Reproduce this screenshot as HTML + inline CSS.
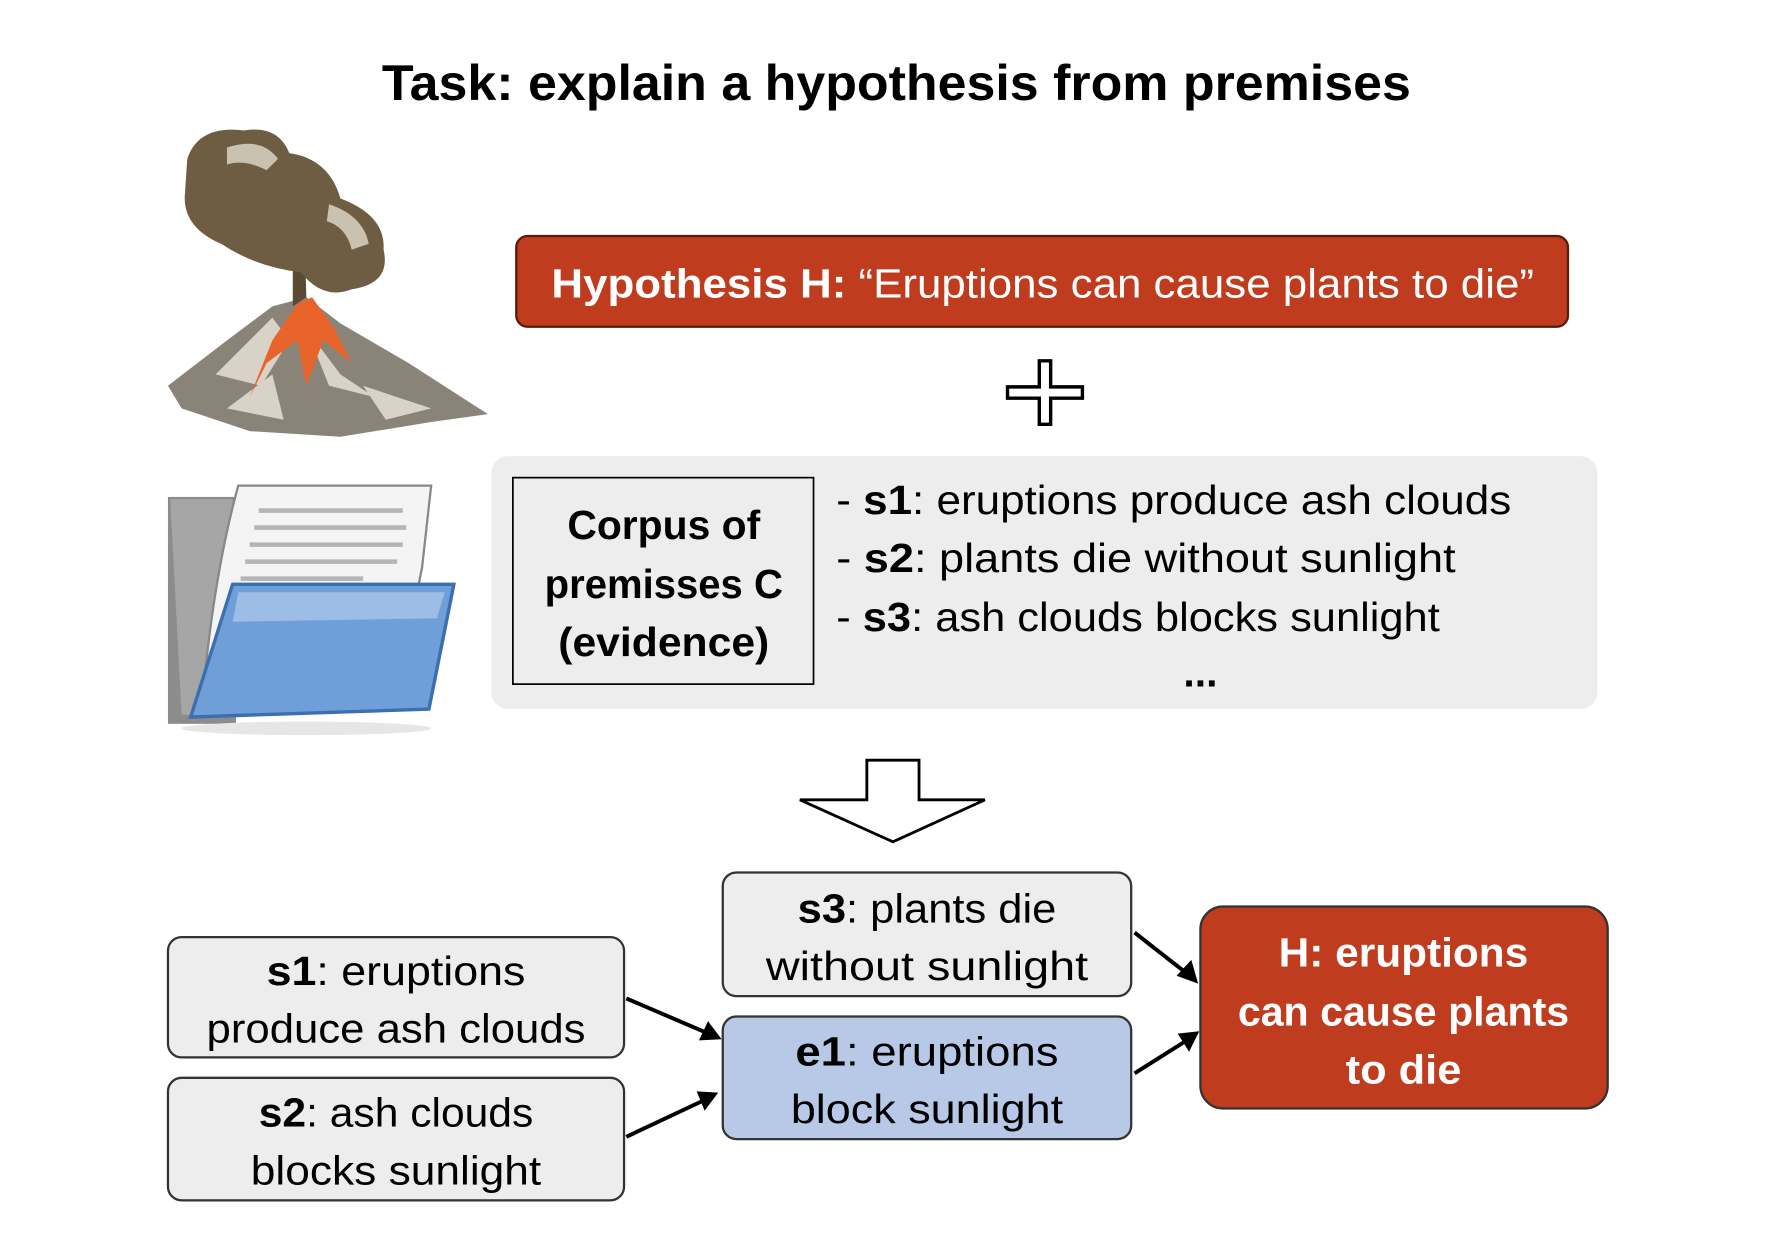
<!DOCTYPE html>
<html><head><meta charset="utf-8"><style>
html,body{margin:0;padding:0;background:#fff}
svg{display:block}
text{font-family:"Liberation Sans",sans-serif}
</style></head><body>
<svg width="1770" height="1248" viewBox="0 0 1560 1100" xmlns="http://www.w3.org/2000/svg">
<defs>
<marker id="ah" markerWidth="8" markerHeight="8" refX="7" refY="4" orient="auto" markerUnits="userSpaceOnUse" viewBox="0 0 8 8">
</marker>
</defs>
<rect width="1560" height="1100" fill="#fff"/>
<text x="790" y="88" font-size="44" font-weight="bold" text-anchor="middle" textLength="907" lengthAdjust="spacingAndGlyphs">Task: explain a hypothesis from premises</text>

<!-- volcano -->
<path d="M148,340 L200,300 L240,270 L270,262 L300,285 L360,320 L430,365 L380,372 L300,385 L220,380 L160,360 Z" fill="#8a8478"/>
<path d="M190,330 L240,280 L255,300 L230,340 Z M270,290 L300,330 L330,350 L290,340 Z M200,360 L240,330 L250,370 Z M320,340 L380,360 L340,370 Z" fill="#d8d3c6"/>
<path d="M262,268 L275,262 L295,290 L310,320 L285,300 L270,340 L262,300 L235,320 L220,350 L240,300 Z" fill="#e8642a"/>
<path d="M258,270 L270,262 L268,200 L258,200 Z" fill="#5a4a35"/>
<path d="M165,140 Q175,110 215,115 Q245,110 255,135 Q290,140 300,175 Q340,190 338,220 Q345,250 310,255 Q285,265 265,240 Q225,235 195,215 Q160,200 163,170 Z" fill="#6e5d42"/>
<path d="M200,130 Q230,120 245,140 L235,150 Q215,140 200,145 Z M290,180 Q320,190 325,215 L310,220 Q305,200 288,195 Z" fill="#c9c2b0"/>

<!-- folder -->
<rect x="148" y="438" width="60" height="200" fill="#8c8c8c"/>
<path d="M150,440 L205,440 L205,630 L160,630 Z" fill="#a6a6a6"/>
<path d="M210,428 L380,428 L372,500 L360,560 L180,600 Q190,500 210,428 Z" fill="#f4f4f4" stroke="#888" stroke-width="2"/>
<g stroke="#b5b5b5" stroke-width="4">
<line x1="228" y1="450" x2="355" y2="450"/><line x1="224" y1="465" x2="358" y2="465"/><line x1="220" y1="480" x2="355" y2="480"/><line x1="216" y1="495" x2="350" y2="495"/><line x1="212" y1="510" x2="320" y2="510"/>
</g>
<path d="M205,515 L400,515 L378,625 L168,632 Z" fill="#6f9fd8" stroke="#3d6fb0" stroke-width="3"/>
<path d="M210,522 L392,522 L385,545 L205,548 Z" fill="#9bbde6"/>
<ellipse cx="270" cy="642" rx="110" ry="6" fill="#e6e6e6"/>

<!-- hypothesis -->
<rect x="455" y="208" width="927" height="80" rx="10" fill="#bf3c1f" stroke="#5b1a0a" stroke-width="2"/>
<text x="486" y="262" font-size="36" fill="#fff" textLength="866" lengthAdjust="spacingAndGlyphs"><tspan font-weight="bold">Hypothesis H: </tspan>“Eruptions can cause plants to die”</text>

<!-- plus -->
<path d="M916,318 H926 V341 H954 V351 H926 V374 H916 V351 H888 V341 H916 Z" fill="#fff" stroke="#000" stroke-width="3"/>

<!-- grey panel -->
<rect x="433" y="402" width="975" height="223" rx="15" fill="#ededed"/>
<rect x="452" y="421" width="265" height="182" fill="#ededed" stroke="#000" stroke-width="1.5"/>
<g font-size="36" font-weight="bold" text-anchor="middle">
<text x="585" y="475" textLength="170" lengthAdjust="spacingAndGlyphs">Corpus of</text>
<text x="585" y="527" textLength="210" lengthAdjust="spacingAndGlyphs">premisses C</text>
<text x="585" y="578" textLength="186" lengthAdjust="spacingAndGlyphs">(evidence)</text>
</g>
<g font-size="36">
<text x="737" y="453" textLength="595" lengthAdjust="spacingAndGlyphs">- <tspan font-weight="bold">s1</tspan>: eruptions produce ash clouds</text>
<text x="737" y="504" textLength="546" lengthAdjust="spacingAndGlyphs">- <tspan font-weight="bold">s2</tspan>: plants die without sunlight</text>
<text x="737" y="556" textLength="532" lengthAdjust="spacingAndGlyphs">- <tspan font-weight="bold">s3</tspan>: ash clouds blocks sunlight</text>
<text x="1058" y="605" font-weight="bold" text-anchor="middle">...</text>
</g>

<!-- down arrow -->
<path d="M764,670 H810 V705 H868 L787,742 L705,705 H764 Z" fill="#fff" stroke="#000" stroke-width="2.5"/>

<!-- boxes -->
<g stroke="#333" stroke-width="2">
<rect x="148" y="826" width="402" height="106" rx="12" fill="#ededed"/>
<rect x="148" y="950" width="402" height="108" rx="12" fill="#ededed"/>
<rect x="637" y="769" width="360" height="109" rx="12" fill="#ededed"/>
<rect x="637" y="896" width="360" height="108" rx="12" fill="#b7c9e6"/>
<rect x="1058" y="799" width="359" height="178" rx="20" fill="#bf3c1f"/>
</g>
<g font-size="36" text-anchor="middle">
<text x="349" y="868" textLength="228" lengthAdjust="spacingAndGlyphs"><tspan font-weight="bold">s1</tspan>: eruptions</text>
<text x="349" y="919" textLength="334" lengthAdjust="spacingAndGlyphs">produce ash clouds</text>
<text x="349" y="993" textLength="242" lengthAdjust="spacingAndGlyphs"><tspan font-weight="bold">s2</tspan>: ash clouds</text>
<text x="349" y="1044" textLength="256" lengthAdjust="spacingAndGlyphs">blocks sunlight</text>
<text x="817" y="813" textLength="228" lengthAdjust="spacingAndGlyphs"><tspan font-weight="bold">s3</tspan>: plants die</text>
<text x="817" y="864" textLength="284" lengthAdjust="spacingAndGlyphs">without sunlight</text>
<text x="817" y="939" textLength="232" lengthAdjust="spacingAndGlyphs"><tspan font-weight="bold">e1</tspan>: eruptions</text>
<text x="817" y="990" textLength="240" lengthAdjust="spacingAndGlyphs">block sunlight</text>
</g>
<g font-size="36" font-weight="bold" fill="#fff" text-anchor="middle">
<text x="1237" y="852" textLength="220" lengthAdjust="spacingAndGlyphs">H: eruptions</text>
<text x="1237" y="904" textLength="292" lengthAdjust="spacingAndGlyphs">can cause plants</text>
<text x="1237" y="955" textLength="102" lengthAdjust="spacingAndGlyphs">to die</text>
</g>

<!-- connectors -->
<g stroke="#000" stroke-width="3.5">
<line x1="552" y1="880" x2="622" y2="910"/>
<line x1="552" y1="1002" x2="620" y2="970"/>
<line x1="1000" y1="822" x2="1046" y2="858"/>
<line x1="1000" y1="946" x2="1046" y2="917"/>
</g>
<g fill="#000">
<path d="M636,916 L616,917 L624,900 Z"/>
<path d="M633,963 L621,979 L614,962 Z"/>
<path d="M1056,867 L1037,860 L1050,846 Z"/>
<path d="M1057,909 L1048,927 L1038,911 Z"/>
</g>
</svg>
</body></html>
